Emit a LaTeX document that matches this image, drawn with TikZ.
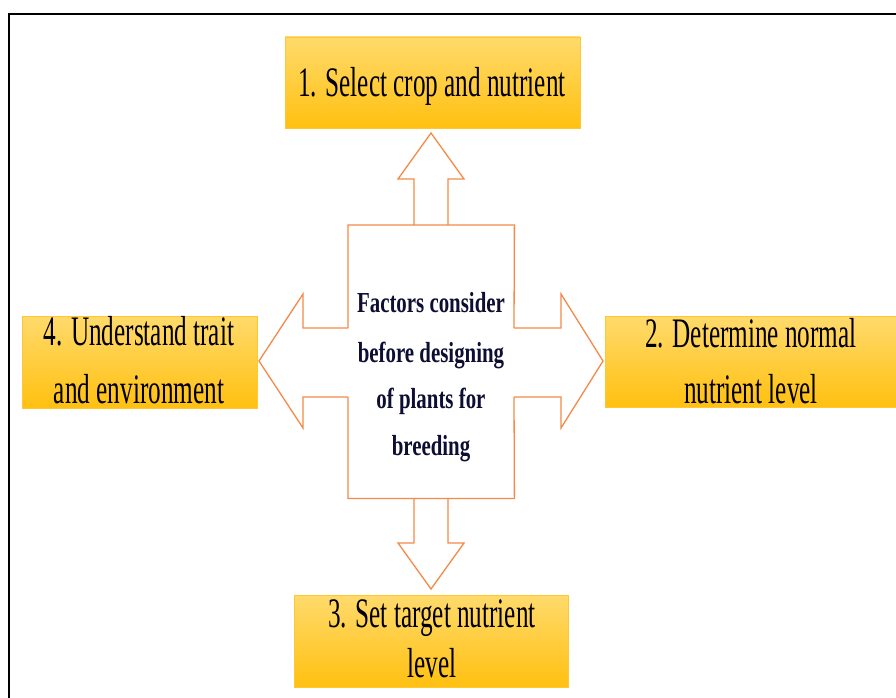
\documentclass[tikz,border=0pt]{standalone}
\usepackage{fontspec}
\setmainfont{Liberation Serif}
\newfontfamily\boxfont[FakeStretch=0.6]{Liberation Serif}
\newfontfamily\centfont[FakeStretch=0.72]{Liberation Serif}
\definecolor{arrowc}{RGB}{244,138,72}
\definecolor{ytop}{RGB}{255,218,108}
\definecolor{ybot}{RGB}{255,192,16}
\definecolor{yedge}{RGB}{255,200,50}
\definecolor{navy}{RGB}{14,14,52}
\tikzset{
  ybox/.style={rectangle, draw=yedge, line width=0.8pt, top color=ytop, bottom color=ybot, inner sep=0pt},
  btxt/.style={anchor=base, inner sep=0pt, font=\boxfont\fontsize{42}{50}\selectfont},
  ctxt/.style={anchor=base, inner sep=0pt, text=navy, font=\centfont\bfseries\fontsize{29}{35}\selectfont},
  blockarrow/.style={draw=arrowc, line width=1.3pt, line join=miter}
}
\begin{document}
\begin{tikzpicture}[x=1pt,y=-1pt]
\useasboundingbox (0,0) rectangle (896,698);
\fill[white] (0,0) rectangle (896,698);
\draw[line width=1.3pt] (9,700) -- (9,14) -- (900,14);

% boxes
\node[ybox, minimum width=295pt, minimum height=91pt] (b1) at (432.5,82.5) {};
\node[ybox, minimum width=293pt, minimum height=91pt] (b2) at (751.5,361.5) {};
\node[ybox, minimum width=274pt, minimum height=92pt] (b3) at (431,641) {};
\node[ybox, minimum width=235pt, minimum height=92pt] (b4) at (139.5,362) {};

% centre (outline open where the side arrows join it)
\node[minimum width=166pt, minimum height=273pt, inner sep=0pt, anchor=north west] (ctr) at (348,225) {};
\draw[blockarrow] (348,328) -- (ctr.north west) -- (ctr.north east) -- (514,328);
\draw[blockarrow] (514,397) -- (ctr.south east) -- (ctr.south west) -- (348,397);

% block arrows
\draw[blockarrow] (414,225) -- (414,179) -- (398,179) -- (431,133) -- (464,179) -- (448,179) -- (448,225);
\draw[blockarrow] (414,498) -- (414,543) -- (398,543) -- (431,589) -- (464,543) -- (448,543) -- (448,498);
\draw[blockarrow] (514,328) -- (561,328) -- (561,294) -- (603,361) -- (561,428) -- (561,397) -- (514,397);
\draw[blockarrow] (348,328) -- (303,328) -- (303,294) -- (259,361) -- (303,428) -- (303,397) -- (348,397);

% texts
\node[btxt] (t1) at (432,97) {1. Select crop and nutrient};
\node[btxt] (t2a) at (751,347) {2. Determine normal};
\node[btxt] (t2b) at (751,403) {nutrient level};
\node[btxt] (t3a) at (432,627) {3. Set target nutrient};
\node[btxt] (t3b) at (432,677) {level};
\node[btxt] (t4a) at (139,345) {4. Understand trait};
\node[btxt] (t4b) at (139,403) {and environment};

\node[ctxt] (c1) at (431,312) {Factors consider};
\node[ctxt] (c2) at (431,362) {before designing};
\node[ctxt] (c3) at (431,408) {of plants for};
\node[ctxt] (c4) at (431,455) {breeding};
\end{tikzpicture}
\end{document}
